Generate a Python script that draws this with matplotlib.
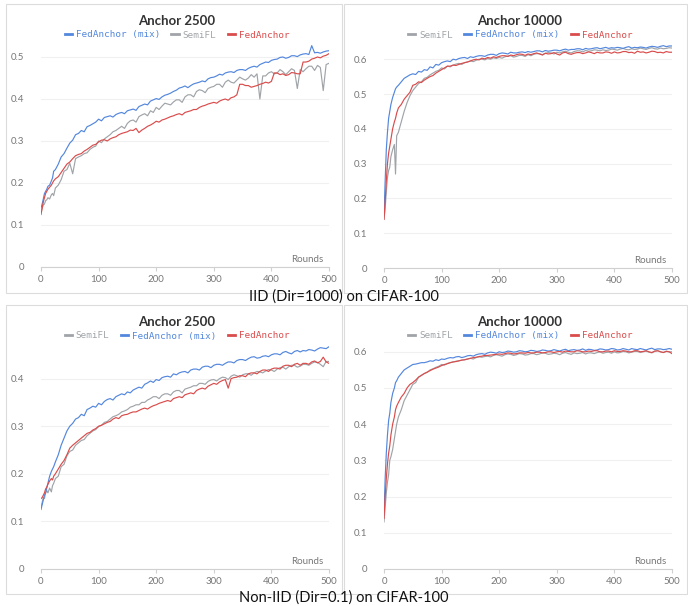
import matplotlib
matplotlib.use("Agg")
import matplotlib.pyplot as plt
from matplotlib.patches import Rectangle

# ============================
# data
# ============================
# rounds: dense at the start, then every 5 rounds
rounds = [0, 2, 4, 6, 8, 10, 12, 15, 18, 20, 22, 25, 30, 35, 40, 45] + list(range(50, 501, 5))

# IID, anchor 2500
iid_2500_mix = [
    .14, .15, .162, .175, .18, .185, .192, .195, .205, .212, .228, .232, .245, .262, .27, .283,
    .295, .302, .315, .318, .325, .322, .334, .337, .341, .345,
    .352, .348, .356, .358, .36, .357, .363, .366, .368, .365,
    .372, .374, .376, .373, .382, .385, .388, .386, .395, .398,
    .401, .399, .405, .409, .411, .414, .418, .421, .426, .428,
    .431, .427, .432, .436, .438, .44, .443, .441, .448, .451,
    .452, .455, .459, .457, .462, .464, .465, .463, .468, .47,
    .47, .468, .473, .476, .478, .476, .482, .485, .488, .487,
    .492, .494, .495, .499, .50, .497, .499, .503, .503, .501,
    .505, .507, .508, .506, .527, .51, .511, .509, .512, .514, .515]
iid_2500_semifl = [
    .13, .14, .148, .15, .158, .16, .165, .162, .172, .175, .17, .188, .195, .208, .228, .232,
    .247, .222, .258, .262, .265, .27, .272, .28, .285, .288,
    .30, .296, .305, .31, .315, .322, .325, .33, .335, .33,
    .342, .348, .35, .345, .358, .362, .365, .36, .372, .368,
    .38, .375, .383, .39, .388, .386, .393, .398, .398, .392,
    .405, .41, .41, .405, .418, .422, .42, .415, .425, .428,
    .43, .435, .435, .428, .44, .445, .44, .438, .445, .452,
    .448, .445, .45, .458, .452, .46, .40, .455, .455, .462,
    .465, .46, .462, .47, .465, .458, .465, .472, .468, .425,
    .47, .465, .472, .478, .478, .468, .48, .475, .42, .482, .485]
iid_2500_fed = [
    .125, .14, .155, .165, .175, .18, .185, .19, .195, .20, .205, .21, .215, .225, .235, .245,
    .25, .258, .265, .268, .27, .276, .28, .285, .29, .292,
    .298, .302, .303, .30, .305, .308, .31, .315, .318, .32,
    .322, .326, .325, .33, .32, .326, .33, .335, .338, .342,
    .347, .345, .35, .352, .355, .358, .36, .363, .365, .362,
    .368, .37, .372, .375, .375, .38, .383, .385, .388, .39,
    .392, .39, .395, .398, .40, .397, .403, .405, .41, .435,
    .435, .432, .432, .428, .43, .432, .435, .437, .44, .438,
    .442, .462, .462, .458, .46, .456, .458, .463, .462, .46,
    .46, .488, .488, .49, .495, .497, .50, .498, .502, .504, .508]

# IID, anchor 10000
iid_10000_mix = [
    .15, .25, .34, .39, .43, .45, .47, .49, .505, .515, .52, .525, .535, .545, .55, .555,
    .558, .556, .565, .563, .57, .568, .578, .575, .585, .583,
    .59, .593, .595, .593, .60, .598, .602, .604, .605, .602,
    .607, .605, .608, .61, .61, .608, .612, .614, .614, .611,
    .616, .618, .617, .615, .62, .618, .618, .62, .621, .619,
    .622, .62, .622, .624, .624, .621, .625, .623, .624, .626,
    .626, .624, .627, .629, .626, .628, .628, .63, .63, .627,
    .631, .629, .63, .632, .633, .63, .632, .634, .631, .633,
    .632, .634, .633, .631, .634, .636, .632, .634, .633, .635,
    .634, .632, .635, .637, .636, .634, .637, .639, .636, .638, .638]
iid_10000_semifl = [
    .14, .17, .22, .26, .28, .29, .32, .34, .355, .27, .38, .39, .42, .45, .475, .495,
    .51, .52, .53, .535, .545, .548, .555, .56, .565, .568,
    .575, .572, .58, .578, .583, .586, .588, .585, .59, .592,
    .595, .593, .597, .60, .60, .598, .602, .60, .604, .602,
    .605, .603, .607, .609, .61, .606, .608, .611, .611, .608,
    .613, .61, .614, .616, .616, .613, .617, .619, .618, .615,
    .62, .618, .621, .623, .62, .618, .622, .624, .624, .621,
    .625, .623, .624, .627, .626, .624, .627, .625, .626, .629,
    .628, .626, .629, .631, .628, .627, .63, .628, .629, .632,
    .63, .628, .631, .633, .63, .629, .632, .63, .631, .633, .632]
iid_10000_fed = [
    .14, .19, .25, .30, .33, .35, .37, .40, .42, .43, .445, .46, .47, .485, .495, .505,
    .525, .528, .535, .533, .54, .545, .55, .553, .56, .565,
    .57, .575, .58, .58, .583, .582, .585, .588, .59, .592,
    .595, .598, .60, .598, .603, .601, .605, .603, .607, .605,
    .608, .61, .61, .608, .612, .61, .613, .615, .614, .611,
    .615, .613, .616, .618, .615, .612, .617, .615, .616, .619,
    .615, .612, .618, .62, .616, .614, .617, .619, .619, .616,
    .618, .621, .619, .616, .62, .618, .618, .621, .62, .617,
    .621, .618, .619, .622, .622, .619, .62, .617, .623, .62,
    .621, .618, .62, .623, .622, .619, .62, .618, .622, .62, .62]

# Non-IID, anchor 2500
non_2500_mix = [
    .125, .135, .145, .155, .16, .17, .18, .195, .205, .21, .215, .225, .24, .26, .275, .29,
    .30, .306, .315, .318, .325, .322, .335, .338, .342, .34,
    .348, .345, .352, .356, .358, .355, .362, .365, .368, .366,
    .372, .37, .376, .379, .382, .38, .388, .391, .395, .392,
    .398, .396, .402, .404, .405, .403, .41, .408, .412, .414,
    .415, .412, .418, .42, .42, .418, .424, .426, .426, .423,
    .428, .43, .43, .428, .432, .435, .435, .433, .438, .44,
    .44, .438, .442, .445, .446, .443, .444, .447, .448, .446,
    .45, .452, .452, .45, .455, .457, .454, .452, .457, .459,
    .456, .459, .458, .461, .46, .458, .462, .465, .464, .463, .467]
non_2500_semifl = [
    .13, .14, .15, .148, .16, .165, .16, .17, .162, .175, .18, .19, .195, .215, .22, .238,
    .247, .25, .26, .265, .27, .272, .28, .285, .29, .293,
    .299, .302, .308, .31, .315, .32, .322, .325, .33, .332,
    .335, .34, .342, .345, .345, .35, .35, .355, .358, .362,
    .362, .358, .365, .368, .368, .365, .372, .375, .375, .37,
    .378, .38, .382, .385, .385, .39, .39, .388, .394, .397,
    .398, .395, .40, .403, .402, .398, .405, .408, .406, .403,
    .408, .41, .41, .407, .412, .415, .414, .412, .416, .419,
    .418, .415, .42, .423, .424, .42, .425, .428, .428, .424,
    .426, .43, .43, .428, .432, .435, .434, .43, .425, .436, .436]
non_2500_fed = [
    .148, .15, .155, .16, .168, .172, .178, .185, .19, .187, .195, .20, .21, .22, .228, .24,
    .254, .26, .265, .27, .275, .28, .285, .287, .292, .295,
    .30, .302, .305, .308, .31, .315, .318, .316, .322, .324,
    .325, .328, .33, .33, .333, .336, .338, .336, .34, .343,
    .345, .348, .35, .352, .354, .352, .358, .36, .362, .36,
    .366, .368, .37, .368, .375, .378, .38, .378, .384, .387,
    .39, .388, .393, .396, .398, .38, .40, .402, .403, .406,
    .406, .404, .41, .412, .412, .41, .415, .418, .418, .415,
    .42, .422, .422, .42, .426, .428, .428, .425, .43, .432,
    .428, .432, .432, .43, .435, .437, .433, .436, .445, .435, .432]

# Non-IID, anchor 10000
non_10000_mix = [
    .15, .25, .32, .37, .41, .43, .46, .485, .50, .515, .52, .53, .54, .55, .555, .56,
    .565, .566, .568, .57, .57, .572, .575, .574, .578, .576,
    .58, .579, .582, .584, .583, .586, .587, .584, .586, .589,
    .59, .588, .592, .594, .595, .593, .597, .599, .598, .596,
    .60, .598, .599, .602, .601, .599, .60, .603, .602, .60,
    .601, .604, .603, .601, .602, .605, .604, .602, .603, .606,
    .604, .602, .605, .607, .603, .605, .606, .604, .605, .608,
    .604, .607, .606, .604, .605, .608, .607, .605, .606, .609,
    .608, .605, .606, .609, .607, .605, .609, .607, .606, .609,
    .607, .605, .608, .61, .606, .608, .608, .606, .607, .609, .607]
non_10000_semifl = [
    .13, .17, .21, .24, .26, .30, .31, .33, .36, .38, .40, .42, .44, .465, .48, .495,
    .51, .515, .53, .535, .54, .543, .55, .553, .557, .56,
    .565, .563, .568, .57, .572, .574, .575, .577, .578, .58,
    .582, .58, .584, .586, .585, .587, .588, .586, .59, .592,
    .59, .588, .592, .594, .593, .59, .592, .595, .594, .591,
    .592, .595, .595, .592, .594, .597, .596, .593, .594, .596,
    .595, .592, .596, .598, .595, .593, .597, .595, .596, .598,
    .594, .597, .597, .595, .598, .60, .596, .598, .599, .596,
    .60, .597, .598, .601, .60, .597, .599, .601, .601, .598,
    .60, .602, .599, .597, .601, .603, .60, .598, .602, .60, .60]
non_10000_fed = [
    .14, .20, .25, .29, .32, .34, .37, .40, .42, .44, .45, .46, .475, .485, .50, .51,
    .515, .522, .53, .535, .54, .544, .548, .552, .555, .558,
    .562, .565, .567, .57, .572, .573, .575, .577, .578, .58,
    .582, .584, .585, .587, .588, .59, .59, .591, .592, .593,
    .594, .593, .595, .597, .596, .594, .595, .597, .597, .596,
    .598, .597, .597, .599, .599, .597, .598, .60, .60, .598,
    .60, .601, .599, .602, .601, .60, .60, .603, .602, .60,
    .60, .602, .601, .603, .603, .60, .60, .602, .602, .60,
    .603, .601, .601, .603, .602, .60, .60, .603, .603, .60,
    .601, .603, .60, .598, .602, .603, .60, .598, .601, .60, .595]

x_ticks = [0, 100, 200, 300, 400, 500]
section_titles = ["IID (Dir=1000) on CIFAR-100", "Non-IID (Dir=0.1) on CIFAR-100"]

# ============================
# style
# ============================
BLUE = "#5387DD"
GRAY = "#A0A4A8"
RED = "#DA4C4C"
W, H = 688, 606

plt.rcParams['font.family'] = ['Lato', 'DejaVu Sans']

fig = plt.figure(figsize=(W / 100, H / 100), dpi=100)

# panel: title, series in legend order, ylim top, y ticks,
# axes box in px (x0, x1, y of zero, px per 0.1), frame box in px
panels = [
    ("Anchor 2500",
     [("FedAnchor (mix)", iid_2500_mix, BLUE), ("SemiFL", iid_2500_semifl, GRAY), ("FedAnchor", iid_2500_fed, RED)],
     0.54, [0, 0.1, 0.2, 0.3, 0.4, 0.5], (41, 329, 267, 42.0), (6, 342, 4, 293)),
    ("Anchor 10000",
     [("SemiFL", iid_10000_semifl, GRAY), ("FedAnchor (mix)", iid_10000_mix, BLUE), ("FedAnchor", iid_10000_fed, RED)],
     0.65, [0, 0.1, 0.2, 0.3, 0.4, 0.5, 0.6], (384, 672, 268, 34.8), (344, 687, 4, 293)),
    ("Anchor 2500",
     [("SemiFL", non_2500_semifl, GRAY), ("FedAnchor (mix)", non_2500_mix, BLUE), ("FedAnchor", non_2500_fed, RED)],
     0.48, [0, 0.1, 0.2, 0.3, 0.4], (41, 329, 569, 47.6), (6, 342, 305, 594)),
    ("Anchor 10000",
     [("SemiFL", non_10000_semifl, GRAY), ("FedAnchor (mix)", non_10000_mix, BLUE), ("FedAnchor", non_10000_fed, RED)],
     0.62, [0, 0.1, 0.2, 0.3, 0.4, 0.5, 0.6], (384, 672, 569, 36.2), (344, 687, 305, 594)),
]

for title, series, ytop, yticks, (x0, x1, yz, per), (fx0, fx1, fy0, fy1) in panels:
    # light frame round each panel
    fig.patches.append(Rectangle((fx0 / W, 1 - fy1 / H), (fx1 - fx0) / W, (fy1 - fy0) / H,
                                 transform=fig.transFigure, fill=False, ec="#dcdcdc", lw=0.8))
    height = ytop * per * 10
    ax = fig.add_axes([x0 / W, 1 - yz / H, (x1 - x0) / W, height / H])
    for name, vals, col in series:
        ax.plot(rounds, vals, color=col, lw=0.85, label=name)
    ax.set_xlim(0, 500)
    ax.set_ylim(0, ytop)
    ax.set_yticks(yticks)
    ax.set_yticklabels(["0" if t == 0 else f"{t:g}" for t in yticks])
    ax.set_xticks(x_ticks)
    for s in ["top", "right", "left"]:
        ax.spines[s].set_visible(False)
    ax.spines["bottom"].set_color("#d0d0d0")
    ax.tick_params(axis="y", length=0, labelsize=7, labelcolor="#777777", pad=12)
    ax.tick_params(axis="x", length=3, color="#d0d0d0", labelsize=7, labelcolor="#777777", pad=3)
    ax.grid(axis="y", color="#f0f0f0", lw=0.8)
    ax.set_axisbelow(True)
    ax.text(0.98, 0.012, "Rounds", transform=ax.transAxes, ha="right", va="bottom",
            fontsize=7, color="#777777")
    # title + legend above the plot
    cx = (x0 + x1) / 2 - 8
    fig.text(cx / W, 1 - (fy0 + 17) / H, title, ha="center", va="center",
             fontsize=9.5, fontweight="bold", color="#333333")
    leg = ax.legend(loc="center", bbox_to_anchor=((cx - x0) / (x1 - x0), 1 + (yz - height - (fy0 + 31)) / height),
                    ncol=3, frameon=False, handlelength=0.8, handletextpad=0.4, columnspacing=1.2,
                    prop={"family": "DejaVu Sans Mono", "size": 6.7}, labelcolor="linecolor")
    for ln in leg.get_lines():
        ln.set_linewidth(2)

fig.text(344 / W, 1 - 297 / H, section_titles[0], ha="center", va="center", fontsize=10.5, color="#111111")
fig.text(344 / W, 1 - 598 / H, section_titles[1], ha="center", va="center", fontsize=10.5, color="#111111")

fig.savefig("out.png", dpi=100)
